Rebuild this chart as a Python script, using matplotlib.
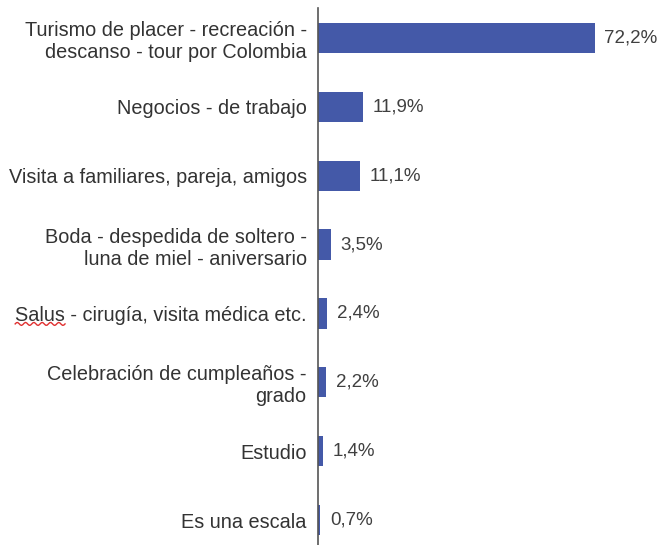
import numpy as np
import matplotlib.pyplot as plt

plt.rcParams['font.family'] = ['Liberation Sans', 'DejaVu Sans']

categories = [
    'Turismo de placer - recreación -\ndescanso - tour por Colombia',
    'Negocios - de trabajo',
    'Visita a familiares, pareja, amigos',
    'Boda - despedida de soltero -\nluna de miel - aniversario',
    'Salus - cirugía, visita médica etc.',
    'Celebración de cumpleaños -\ngrado',
    'Estudio',
    'Es una escala',
]
values = [72.2, 11.9, 11.1, 3.5, 2.4, 2.2, 1.4, 0.7]
value_labels = ['72,2%', '11,9%', '11,1%', '3,5%', '2,4%', '2,2%', '1,4%', '0,7%']

fig = plt.figure(figsize=(6.69, 5.45), dpi=100)
ax = fig.add_axes([0.475, 0.0, 0.475, 0.9853])

ypos = list(range(len(categories)))
bars = ax.barh(ypos, values, height=0.44, color='#4459a8')

ax.set_xlim(0, 82.9)
ax.set_ylim(7.363, -0.435)
ax.set_yticks(ypos)
ax.set_yticklabels(categories, fontsize=14.3, color='#333333', linespacing=1.2)
ax.tick_params(axis='y', length=0, pad=8)
ax.set_xticks([])

for s in ['top', 'right', 'bottom']:
    ax.spines[s].set_visible(False)
ax.spines['left'].set_color('#555555')
ax.spines['left'].set_linewidth(1.2)

for b, lab in zip(bars, value_labels):
    ax.text(b.get_width() + 2.5, b.get_y() + b.get_height() / 2, lab,
            va='center', ha='left', fontsize=13.5, color='#404040')

# red spell-check squiggle under "Salus"
fig.canvas.draw()
r = fig.canvas.get_renderer()
lbl = ax.get_yticklabels()[4]
bb = lbl.get_window_extent(r)
tmp = fig.text(0, 0, 'Salus', fontsize=14.3)
w = tmp.get_window_extent(r).width
tmp.remove()
xs = np.linspace(bb.x0, bb.x0 + w, 40)
ys = bb.y0 + 1 + 1.5 * np.sin((xs - bb.x0) / w * 2 * np.pi * 6)
fig.add_artist(plt.Line2D(xs, ys, color='#e03030', lw=1.0, transform=None))

fig.savefig('out.png', dpi=100)
